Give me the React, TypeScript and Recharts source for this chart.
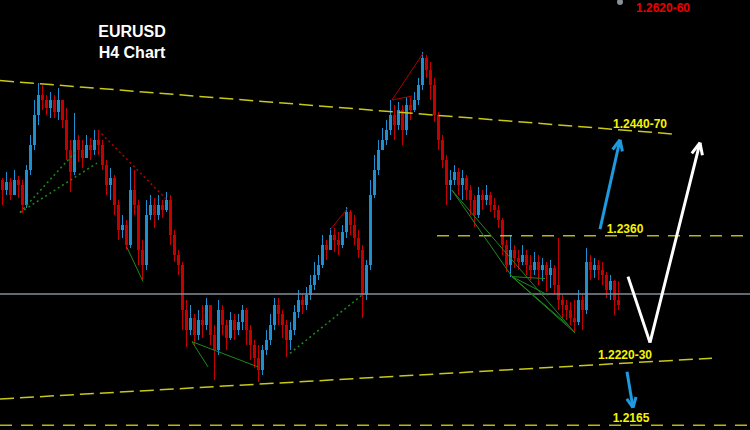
import { ComposedChart, Bar, XAxis, YAxis, ReferenceLine, ReferenceDot } from 'recharts'

// EURUSD H4 prices, in pips (price * 10000). open of each bar = previous close
const firstOpen = 12419
const closes = [
  12408, 12417, 12403, 12419, 12413, 12393, 12429, 12455, 12486, 12506,
  12501, 12493, 12501, 12489, 12501, 12480, 12449, 12427, 12460, 12449,
  12441, 12455, 12449, 12460, 12455, 12434, 12413, 12421, 12393, 12367,
  12372, 12352, 12408, 12393, 12346, 12331, 12383, 12393, 12383, 12393,
  12388, 12398, 12362, 12341, 12331, 12285, 12264, 12276, 12259, 12274,
  12269, 12290, 12259, 12243, 12285, 12269, 12256, 12274, 12264, 12272,
  12285, 12264, 12249, 12235, 12223, 12243, 12254, 12269, 12290, 12280,
  12269, 12254, 12264, 12283, 12295, 12290, 12300, 12310, 12321, 12331,
  12352, 12346, 12362, 12357, 12352, 12365, 12386, 12372, 12359, 12346,
  12300, 12331, 12403, 12429, 12449, 12460, 12470, 12486, 12475, 12491,
  12470, 12496, 12491, 12501, 12516, 12544, 12532, 12516, 12486, 12460,
  12439, 12413, 12419, 12427, 12413, 12421, 12408, 12398, 12383, 12403,
  12398, 12403, 12393, 12388, 12377, 12352, 12331, 12346, 12338, 12334,
  12341, 12331, 12326, 12334, 12326, 12331, 12321, 12328, 12310, 12295,
  12290, 12285, 12276, 12272, 12295, 12285, 12334, 12326, 12331, 12326,
  12321, 12305, 12314, 12295, 12290,
]
const highs = [
  12421, 12427, 12421, 12429, 12423, 12419, 12434, 12465, 12501, 12519,
  12516, 12506, 12509, 12506, 12513, 12501, 12493, 12460, 12488, 12465,
  12460, 12465, 12462, 12470, 12470, 12460, 12439, 12431, 12424, 12398,
  12383, 12377, 12432, 12429, 12398, 12357, 12398, 12403, 12400, 12403,
  12398, 12406, 12403, 12367, 12346, 12334, 12295, 12290, 12280, 12285,
  12290, 12297, 12290, 12269, 12295, 12290, 12274, 12283, 12280, 12280,
  12290, 12287, 12269, 12254, 12249, 12249, 12264, 12280, 12297, 12297,
  12285, 12274, 12272, 12290, 12305, 12300, 12308, 12321, 12334, 12341,
  12362, 12357, 12369, 12369, 12365, 12372, 12391, 12388, 12383, 12367,
  12352, 12336, 12419, 12444, 12460, 12472, 12480, 12501, 12496, 12499,
  12496, 12504, 12503, 12509, 12524, 12550, 12547, 12540, 12524, 12489,
  12465, 12444, 12429, 12434, 12431, 12429, 12424, 12413, 12403, 12411,
  12408, 12413, 12406, 12400, 12393, 12379, 12357, 12361, 12352, 12346,
  12352, 12346, 12341, 12344, 12341, 12338, 12334, 12336, 12331, 12359,
  12300, 12295, 12293, 12295, 12305, 12300, 12349, 12341, 12338, 12336,
  12334, 12324, 12321, 12316, 12314,
]
const lows = [
  12393, 12403, 12398, 12406, 12400, 12385, 12390, 12424, 12449, 12475,
  12491, 12486, 12482, 12482, 12480, 12472, 12439, 12406, 12424, 12437,
  12431, 12441, 12439, 12444, 12444, 12429, 12403, 12398, 12383, 12357,
  12359, 12346, 12349, 12383, 12331, 12314, 12326, 12377, 12369, 12377,
  12379, 12386, 12352, 12334, 12321, 12264, 12247, 12259, 12249, 12254,
  12256, 12264, 12249, 12213, 12238, 12259, 12243, 12254, 12254, 12259,
  12264, 12249, 12233, 12225, 12210, 12218, 12238, 12249, 12264, 12269,
  12256, 12236, 12243, 12259, 12276, 12280, 12285, 12295, 12305, 12316,
  12328, 12336, 12346, 12344, 12341, 12349, 12359, 12362, 12352, 12338,
  12276, 12295, 12326, 12400, 12424, 12449, 12455, 12465, 12460, 12470,
  12455, 12465, 12480, 12489, 12496, 12511, 12524, 12501, 12478, 12449,
  12431, 12393, 12398, 12413, 12403, 12398, 12398, 12383, 12370, 12379,
  12388, 12393, 12386, 12379, 12369, 12341, 12324, 12319, 12328, 12326,
  12331, 12321, 12316, 12321, 12310, 12314, 12303, 12307, 12300, 12285,
  12276, 12274, 12269, 12261, 12269, 12264, 12280, 12316, 12318, 12316,
  12310, 12297, 12295, 12279, 12285,
]

// key levels
const levelSupport = 12166
const levelResist = 12361
const levelPivot = 12301

// trend channel: [x1, y1, x2, y2] in bar index / pips
const channelTop = [-0.5, 12521, 167.5, 12466]
const channelBottom = [-0.5, 12193, 177.5, 12235]

// pattern lines drawn on the chart
const greenDotted = [
  [4.5, 12385, 18.25, 12447],
  [4.5, 12385, 23.75, 12436],
  [72, 12240, 90, 12300],
]
const greenSolid = [
  [31.25, 12349, 35.25, 12314],
  [47.5, 12252, 51.5, 12226],
  [47.5, 12252, 64, 12226],
  [112.5, 12408, 127.5, 12319],
  [112.5, 12408, 143.25, 12261],
  [127.5, 12319, 135.75, 12317],
  [127.5, 12319, 136.5, 12300],
  [127.5, 12319, 141.5, 12269],
  [127.5, 12319, 143.25, 12261],
]
const redDotted = [[24, 12470, 41.25, 12398]]
const redSolid = [
  [82, 12367, 86.5, 12390],
  [97.5, 12501, 105.25, 12549],
  [97.5, 12501, 102.5, 12505],
]

// projection arrows (shaft + head)
const blueArrows = [
  [149.5, 12368, 154.5, 12460],
  [152.65, 12450, 154.5, 12460],
  [155.1, 12448, 154.5, 12460],
  [156.25, 12221, 157.75, 12184],
  [158.5, 12195, 157.75, 12184],
  [156.2, 12193, 157.75, 12184],
]
const whiteArrow = [
  [156.5, 12319, 162, 12251],
  [162, 12251, 174.5, 12457],
  [172.45, 12446, 174.5, 12457],
  [175.1, 12444, 174.5, 12457],
]

const levelLabels = [
  { x: 165.25, y: 12596, text: '1.2620-60', color: '#e80000' },
  { x: 159.5, y: 12477, text: '1.2440-70', color: '#f4f400' },
  { x: 155.75, y: 12368, text: '1.2360', color: '#f4f400' },
  { x: 155.75, y: 12239, text: '1.2220-30', color: '#f4f400' },
  { x: 157.25, y: 12174, text: '1.2165', color: '#f4f400' },
]
const titleLines = [
  { x: 32.5, y: 12572, text: 'EURUSD' },
  { x: 32.5, y: 12550, text: 'H4 Chart' },
]

const UP = '#1f8fd0'
const DOWN = '#c40000'

const data = closes.map((c, i) => {
  const o = i === 0 ? firstOpen : closes[i - 1]
  const h = Math.max(highs[i], o, c)
  const l = Math.min(lows[i], o, c)
  return { i, open: o, close: c, high: h, low: l, range: [l, h] }
})

function Candle(props: any) {
  const { x, y, width, height, payload } = props
  const top = Math.min(y, y + height)
  const h = Math.abs(height)
  const cx = Math.round(x + width / 2) + 0.5
  const span = payload.high - payload.low || 1
  const py = (p: number) => top + ((payload.high - p) / span) * h
  const color = payload.close >= payload.open ? UP : DOWN
  const bTop = py(Math.max(payload.open, payload.close))
  const bBot = py(Math.min(payload.open, payload.close))
  return (
    <g shapeRendering="crispEdges">
      <line x1={cx} x2={cx} y1={top} y2={top + h} stroke={color} strokeWidth={1} />
      <rect x={cx - 1.5} y={bTop} width={3} height={Math.max(1, bBot - bTop)} fill={color} />
    </g>
  )
}

const seg = (s: number[]) => [{ x: s[0], y: s[1] }, { x: s[2], y: s[3] }] as any

export default function App() {
  const font = '"Liberation Sans", Arial, sans-serif'
  return (
    <div style={{ position: 'fixed', left: 0, top: 0, width: 750, height: 430, background: '#000' }}>
      <ComposedChart width={750} height={430} data={data} margin={{ top: 0, right: 0, bottom: 0, left: 0 }}>
        <XAxis type="number" dataKey="i" domain={[-0.5, 187]} allowDataOverflow hide />
        <YAxis type="number" domain={[12161, 12604]} allowDataOverflow hide />

        <ReferenceLine y={levelPivot} stroke="#858c9a" strokeWidth={1.5} />
        <ReferenceLine y={levelSupport} stroke="#b8b810" strokeWidth={1.5} strokeDasharray="12 9" />
        <ReferenceLine segment={seg([108.75, levelResist, 187, levelResist])} stroke="#b8b810" strokeWidth={1.5} strokeDasharray="12 9" />

        {greenDotted.map((s, k) => (
          <ReferenceLine key={'gd' + k} segment={seg(s)} stroke="#1d8a1d" strokeWidth={1.5} strokeDasharray="2 3" />
        ))}
        {greenSolid.map((s, k) => (
          <ReferenceLine key={'gs' + k} segment={seg(s)} stroke="#1d8a1d" strokeWidth={1} />
        ))}
        {redDotted.map((s, k) => (
          <ReferenceLine key={'rd' + k} segment={seg(s)} stroke="#b00000" strokeWidth={1.5} strokeDasharray="2 3" />
        ))}
        {redSolid.map((s, k) => (
          <ReferenceLine key={'rs' + k} segment={seg(s)} stroke="#b00000" strokeWidth={1} />
        ))}

        <Bar dataKey="range" barSize={3} shape={Candle} isAnimationActive={false} />

        <ReferenceLine segment={seg(channelTop)} stroke="#c8c818" strokeWidth={1.5} strokeDasharray="14 6" />
        <ReferenceLine segment={seg(channelBottom)} stroke="#c8c818" strokeWidth={1.5} strokeDasharray="14 6" />

        {blueArrows.map((s, k) => (
          <ReferenceLine key={'ba' + k} segment={seg(s)} stroke="#1e9be0" strokeWidth={3} />
        ))}
        {whiteArrow.map((s, k) => (
          <ReferenceLine key={'wa' + k} segment={seg(s)} stroke="#ffffff" strokeWidth={3} />
        ))}

        <ReferenceDot x={154.5} y={12602} r={3} fill="#8a8f99" stroke="none" />

        {titleLines.map(t => (
          <ReferenceDot
            key={t.text}
            x={t.x}
            y={t.y}
            r={1}
            fill="none"
            stroke="none"
            label={{ value: t.text, position: 'center', fill: '#ffffff', fontSize: 16, fontWeight: 700, fontFamily: font }}
          />
        ))}
        {levelLabels.map(t => (
          <ReferenceDot
            key={t.text}
            x={t.x}
            y={t.y}
            r={1}
            fill="none"
            stroke="none"
            label={{ value: t.text, position: 'center', fill: t.color, fontSize: 12, fontWeight: 700, fontFamily: font }}
          />
        ))}
      </ComposedChart>
    </div>
  )
}
